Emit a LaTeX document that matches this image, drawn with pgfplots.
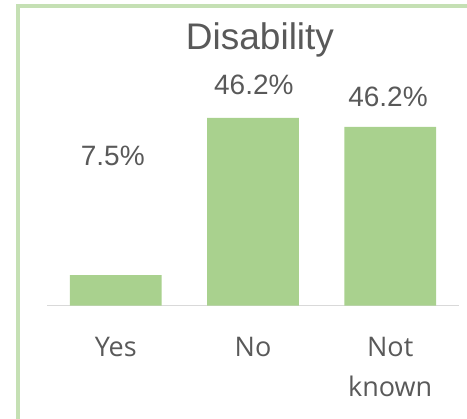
\documentclass[border=0pt]{standalone}
\usepackage{fontspec}
\setmainfont{Liberation Sans}
\newfontfamily\opensans{Open Sans}
\usepackage{pgfplots}
\pgfplotsset{compat=1.18}
\definecolor{bargreen}{HTML}{A9D18E}
\definecolor{framegreen}{HTML}{C5E0B4}
\definecolor{txtgray}{HTML}{595959}
\definecolor{axisgray}{HTML}{D9D9D9}
\begin{document}
\begin{tikzpicture}[x=1bp,y=1bp]
\useasboundingbox (0,0) rectangle (467,418);
\clip (0,0) rectangle (467,418);
\draw[line width=4bp, framegreen] (18,-20) -- (18,412) -- (490,412);
\node[anchor=base, text=txtgray, inner sep=0pt, font=\fontsize{37bp}{42bp}\selectfont] at (260,369) {Disability};
\begin{axis}[
  at={(47.2bp,112.3bp)}, anchor=south west,
  scale only axis, width=411.6bp, height=243.8bp,
  xmin=-0.5, xmax=2.5, ymin=0, ymax=60,
  hide y axis,
  axis x line*=bottom,
  x axis line style={color=axisgray, line width=1.5bp, -},
  xtick={0,1,2},
  xticklabels={Yes,No,{Not\\known}},
  xtick style={draw=none},
  xticklabel style={anchor=north, align=center, inner sep=0pt, yshift=-31.6bp,
    text=txtgray, font=\opensans\fontsize{27bp}{39.3bp}\selectfont},
  clip=false,
]
\addplot[ybar, bar width=91.7bp, fill=bargreen, draw=none] coordinates {(0,7.5) (1,46.2) (2,44.0)};
\node[anchor=base, inner sep=0pt, text=txtgray, font=\fontsize{28bp}{32bp}\selectfont] at (axis cs:-0.022,34.46) {7.5\%};
\node[anchor=base, inner sep=0pt, text=txtgray, font=\fontsize{28bp}{32bp}\selectfont] at (axis cs:1.006,51.86) {46.2\%};
\node[anchor=base, inner sep=0pt, text=txtgray, font=\fontsize{28bp}{32bp}\selectfont] at (axis cs:1.984,49.03) {46.2\%};
\end{axis}
\end{tikzpicture}
\end{document}
